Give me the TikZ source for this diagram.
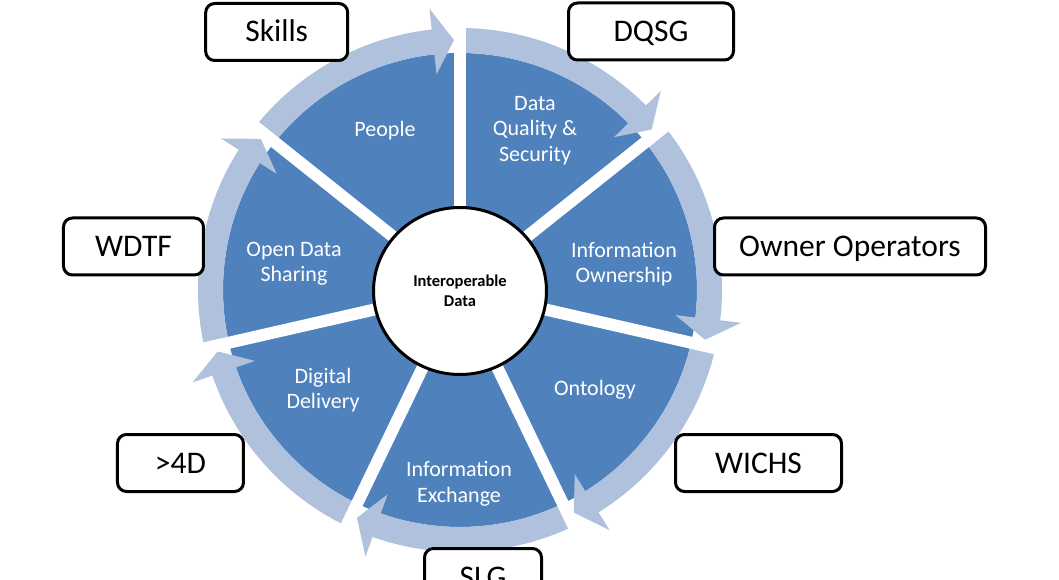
\documentclass[tikz,border=0pt]{standalone}
\usepackage{fontspec}
\setmainfont{Carlito}
\usetikzlibrary{shapes.geometric}
\definecolor{darkblue}{HTML}{4F81BD}
\definecolor{lightblue}{HTML}{B0C1DE}
\begin{document}
\begin{tikzpicture}[x=1pt,y=1pt,
  labelbox/.style={draw=black, line width=3pt, rounded corners=9pt, fill=white, inner sep=0pt, minimum height=57pt, text height=20pt, text depth=0pt, font=\fontsize{31.5}{36}\selectfont},
  seglabel/.style={text=white, align=center, font=\fontsize{22}{25.5}\selectfont},
  ringarrow/.style={fill=lightblue},
  gapline/.style={draw=white, line width=12pt},
  hub/.style={draw=black, fill=white, line width=3pt, ellipse, inner sep=0pt, minimum width=173pt, minimum height=167pt, align=center, font=\bfseries\fontsize{16.5}{20}\selectfont}]
\useasboundingbox (-460,-290) rectangle (599,290);
% wheel
\fill[darkblue] (0,0) circle[radius=237pt];
\foreach \k in {0,...,6} {
  \pgfmathsetmacro{\s}{90-\k*360/7}
  \pgfmathsetmacro{\b}{\s-360/7+6.2}
  \pgfmathsetmacro{\t}{\s-360/7+1.375}
  \fill[ringarrow] (\s:262pt) arc[start angle=\s, end angle=\b, radius=262pt] -- (\b:283pt) -- (\t:250pt) -- (\b:217pt) -- (\b:237pt) arc[start angle=\b, end angle=\s, radius=237pt] -- cycle;
}
\foreach \k in {0,...,6} {
  \draw[gapline] (0,0) -- ({90-\k*360/7}:272pt);
}
\node[hub] (hub) at (0,-1) {Interoperable\\Data};
% segment labels
\node[seglabel] (people) at (-75,159.5) {People};
\node[seglabel] (dqs) at (75,159.5) {Data\\Quality \&\\Security};
\node[seglabel] (own) at (164,26) {Information\\Ownership};
\node[seglabel] (onto) at (135,-99.5) {Ontology};
\node[seglabel] (exch) at (-1,-194) {Information\\Exchange};
\node[seglabel] (dig) at (-137,-100) {Digital\\Delivery};
\node[seglabel] (open) at (-166,26) {Open Data\\Sharing};
% outer boxes
\node[labelbox, minimum width=142pt] (skills) at (-183.3,258) {Skills};
\node[labelbox, minimum width=165pt] (dqsg) at (191,258.5) {DQSG};
\node[labelbox, minimum width=271pt] (owners) at (390,43.5) {Owner Operators};
\node[labelbox, minimum width=166pt] (wichs) at (298.5,-173) {WICHS};
\node[labelbox, minimum width=117pt] (slg) at (23,-287) {SLG};
\node[labelbox, minimum width=126pt] (fourd) at (-279.5,-173) {>4D};
\node[labelbox, minimum width=140pt] (wdtf) at (-326.5,43.5) {WDTF};
\end{tikzpicture}
\end{document}
